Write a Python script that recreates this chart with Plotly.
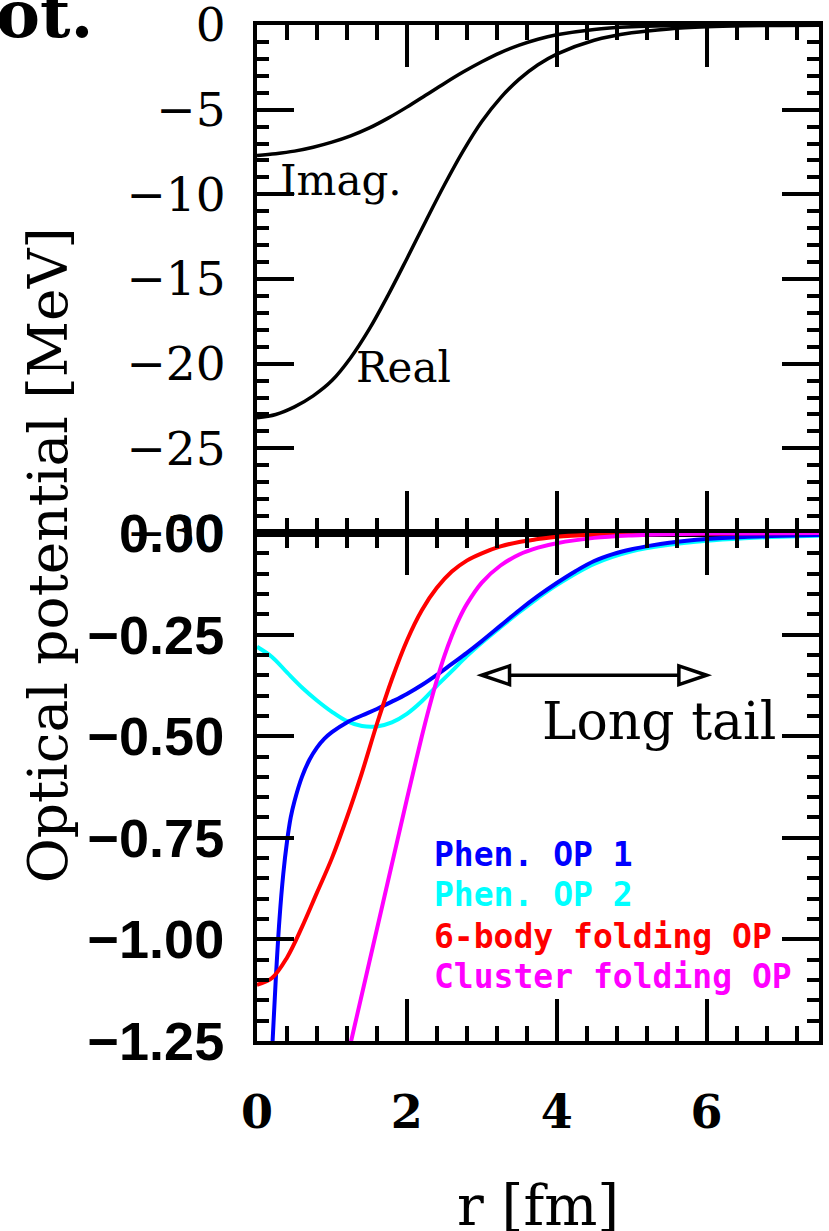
import plotly.graph_objects as go

# ---- top panel: optical potential (MeV) ----
r_top = [0.0, 0.25, 0.5, 0.75, 1.0, 1.25, 1.5, 1.75, 2.0, 2.25, 2.5, 2.75,
         3.0, 3.25, 3.5, 3.75, 4.0, 4.5, 5.0, 5.5, 6.0, 6.5, 7.0, 7.5]
v_real = [-23.2, -23.0, -22.55, -21.9, -21.0, -19.65, -17.95, -15.95, -13.8,
          -11.6, -9.45, -7.45, -5.7, -4.3, -3.2, -2.35, -1.72, -0.9, -0.46,
          -0.23, -0.11, -0.05, -0.025, -0.01]
v_imag = [-7.7, -7.6, -7.45, -7.22, -6.92, -6.55, -6.08, -5.5, -4.85, -4.15,
          -3.45, -2.78, -2.17, -1.63, -1.19, -0.84, -0.58, -0.26, -0.11,
          -0.045, -0.018, -0.007, -0.003, -0.001]

# ---- bottom panel: folding / phenomenological potentials ----
r_op1 = [0.15, 0.2, 0.25, 0.3, 0.35, 0.4, 0.45, 0.5, 0.6, 0.7, 0.8, 0.9, 1.0,
         1.2, 1.4, 1.6, 1.8, 2.0, 2.2, 2.4, 2.6, 2.8, 3.0, 3.25, 3.5, 3.75,
         4.0, 4.25, 4.5, 4.75, 5.0, 5.25, 5.5, 6.0, 6.5, 7.0, 7.5]
v_op1 = [-1.45, -1.28, -1.10, -0.95, -0.84, -0.76, -0.70, -0.66, -0.60,
         -0.558, -0.528, -0.506, -0.49, -0.466, -0.449, -0.433, -0.415,
         -0.396, -0.374, -0.349, -0.322, -0.295, -0.266, -0.228, -0.19,
         -0.155, -0.123, -0.094, -0.069, -0.052, -0.040, -0.031, -0.024,
         -0.015, -0.010, -0.007, -0.005]

r_op2 = [0.0, 0.2, 0.4, 0.6, 0.8, 1.0, 1.2, 1.4, 1.6, 1.8, 2.0, 2.2, 2.4, 2.6,
         2.8, 3.0, 3.25, 3.5, 3.75, 4.0, 4.5, 5.0, 5.5, 6.0, 6.5, 7.0, 7.5]
v_op2 = [-0.28, -0.305, -0.343, -0.38, -0.412, -0.44, -0.463, -0.475,
         -0.476, -0.466, -0.445, -0.414, -0.376, -0.34, -0.303, -0.27,
         -0.232, -0.195, -0.16, -0.128, -0.076, -0.045, -0.029, -0.019,
         -0.013, -0.009, -0.007]

r_six = [0.0, 0.2, 0.4, 0.6, 0.8, 1.0, 1.2, 1.4, 1.6, 1.8, 2.0, 2.2, 2.4, 2.6,
         2.8, 3.0, 3.25, 3.5, 3.75, 4.0, 4.5, 5.0, 6.0, 7.5]
v_six = [-1.112, -1.095, -1.045, -0.97, -0.885, -0.8, -0.7, -0.59, -0.47,
         -0.36, -0.265, -0.19, -0.135, -0.095, -0.068, -0.05, -0.033, -0.022,
         -0.015, -0.009, -0.004, -0.002, -0.001, 0.0]

r_clu = [1.2, 1.3, 1.4, 1.5, 1.6, 1.7, 1.8, 1.9, 2.0, 2.1, 2.2, 2.3, 2.4, 2.5,
         2.6, 2.7, 2.8, 3.0, 3.25, 3.5, 3.75, 4.0, 4.5, 5.0, 5.5, 6.0, 7.5]
v_clu = [-1.295, -1.215, -1.135, -1.055, -0.975, -0.895, -0.815, -0.735,
         -0.655, -0.577, -0.5, -0.428, -0.362, -0.303, -0.253, -0.21, -0.175,
         -0.122, -0.08, -0.053, -0.036, -0.025, -0.012, -0.006, -0.003,
         -0.0015, 0.0]

series = [
    ("Phen. OP 2", r_op2, v_op2, "#00ffff"),
    ("Phen. OP 1", r_op1, v_op1, "#0000ff"),
    ("6-body folding OP", r_six, v_six, "#ff0000"),
    ("Cluster folding OP", r_clu, v_clu, "#ff00ff"),
]
legend_order = ["Phen. OP 1", "Phen. OP 2", "6-body folding OP", "Cluster folding OP"]
legend_y = [-0.791, -0.890, -0.993, -1.091]
legend_x = 2.33

# "Long tail" arrow
tail_start, tail_end, tail_v = 3.0, 6.0, -0.35
head_len, head_half = 0.37, 0.023

SERIF = "DejaVu Serif"
SANS = "Liberation Sans"
MONO = "DejaVu Sans Mono"

fig = go.Figure()
fig.add_trace(go.Scatter(x=r_top, y=v_imag, mode="lines", xaxis="x", yaxis="y",
                         line=dict(color="black", width=3.5, shape="spline"),
                         showlegend=False))
fig.add_trace(go.Scatter(x=r_top, y=v_real, mode="lines", xaxis="x", yaxis="y",
                         line=dict(color="black", width=3.5, shape="spline"),
                         showlegend=False))
colors = {}
for name, rr, vv, col in series:
    colors[name] = col
    fig.add_trace(go.Scatter(x=rr, y=vv, mode="lines", name=name,
                             xaxis="x2", yaxis="y2",
                             line=dict(color=col, width=4, shape="spline"),
                             showlegend=False))

xcommon = dict(range=[0, 7.5], tick0=0, dtick=2, ticks="inside", ticklen=42,
               tickwidth=3.5, tickcolor="black", showline=True, linewidth=4,
               linecolor="black", mirror="allticks", showgrid=False,
               zeroline=False, automargin=False, ticklabeloverflow="allow",
               minor=dict(tick0=0, dtick=0.4, ticks="inside", ticklen=15,
                          tickwidth=3.5, tickcolor="black", showgrid=False))
ycommon = dict(ticks="inside", ticklen=37, tickwidth=3.5, tickcolor="black",
               showline=True, linewidth=4, linecolor="black",
               mirror="allticks", showgrid=False, zeroline=False,
               automargin=False, ticklabeloverflow="allow",
               ticklabelstandoff=18)

fig.update_layout(
    width=829, height=1231,
    margin=dict(l=257, r=10, t=25, b=190, autoexpand=False),
    paper_bgcolor="white", plot_bgcolor="white",
    xaxis=dict(**xcommon, anchor="y", showticklabels=False),
    xaxis2=dict(**xcommon, anchor="y2", showticklabels=True,
                tickfont=dict(family=SERIF, size=46, color="black",
                              weight="bold"),
                ticklabelstandoff=28),
    yaxis=dict(**ycommon, domain=[0.5, 1.0], anchor="x", range=[-30, 0],
               tick0=0, dtick=5,
               tickfont=dict(family=SERIF, size=47, color="black"),
               minor=dict(dtick=1, ticks="inside", ticklen=12, tickwidth=3.5,
                          tickcolor="black", showgrid=False)),
    yaxis2=dict(**ycommon, domain=[0.0, 0.5], anchor="x2", range=[-1.25, 0],
                tick0=0, dtick=0.25, tickformat=".2f",
                tickfont=dict(family=SANS, size=54, color="black",
                              weight="bold"),
                minor=dict(dtick=0.05, ticks="inside", ticklen=12,
                           tickwidth=3.5, tickcolor="black", showgrid=False)),
)

ann = []
ann.append(dict(text="Imag.", x=0.28, y=-9.18, xref="x", yref="y",
                xanchor="left", yanchor="middle", showarrow=False,
                font=dict(family=SERIF, size=42, color="black")))
ann.append(dict(text="Real", x=1.29, y=-20.23, xref="x", yref="y",
                xanchor="left", yanchor="middle", showarrow=False,
                font=dict(family=SERIF, size=42, color="black")))
ann.append(dict(text="Long tail", x=3.77, y=-0.462, xref="x2", yref="y2",
                xanchor="left", yanchor="middle", showarrow=False,
                font=dict(family=SERIF, size=52, color="black")))
for name, yy in zip(legend_order, legend_y):
    ann.append(dict(text="<b>%s</b>" % name, x=legend_x, y=yy, xref="x2",
                    yref="y2", xanchor="left", yanchor="middle",
                    showarrow=False,
                    font=dict(family=MONO, size=33, color=colors[name])))
ann.append(dict(text="Optical potential [MeV]", x=-0.372, y=0.478,
                xref="paper", yref="paper", textangle=-90, showarrow=False,
                xanchor="center", yanchor="middle",
                font=dict(family=SERIF, size=55, color="black")))
ann.append(dict(text="r [fm]", x=0.5, y=-0.162, xref="paper", yref="paper",
                showarrow=False, xanchor="center", yanchor="middle",
                font=dict(family=SERIF, size=56, color="black")))
ann.append(dict(text="<b>ot.</b>", x=-0.468, y=1.0108, xref="paper",
                yref="paper", showarrow=False, xanchor="left",
                yanchor="middle",
                font=dict(family=SERIF, size=66, color="black")))
fig.update_layout(annotations=ann)

# double-headed arrow with open triangular heads
shapes = [
    dict(type="line", xref="x2", yref="y2",
         x0=tail_start + head_len, x1=tail_end - head_len, y0=tail_v, y1=tail_v,
         line=dict(color="black", width=3.5)),
    dict(type="path", xref="x2", yref="y2",
         path="M %g,%g L %g,%g L %g,%g Z" % (
             tail_start, tail_v, tail_start + head_len, tail_v + head_half,
             tail_start + head_len, tail_v - head_half),
         line=dict(color="black", width=3.5), fillcolor="white"),
    dict(type="path", xref="x2", yref="y2",
         path="M %g,%g L %g,%g L %g,%g Z" % (
             tail_end, tail_v, tail_end - head_len, tail_v + head_half,
             tail_end - head_len, tail_v - head_half),
         line=dict(color="black", width=3.5), fillcolor="white"),
]
fig.update_layout(shapes=shapes)

fig.write_html("out.html")
